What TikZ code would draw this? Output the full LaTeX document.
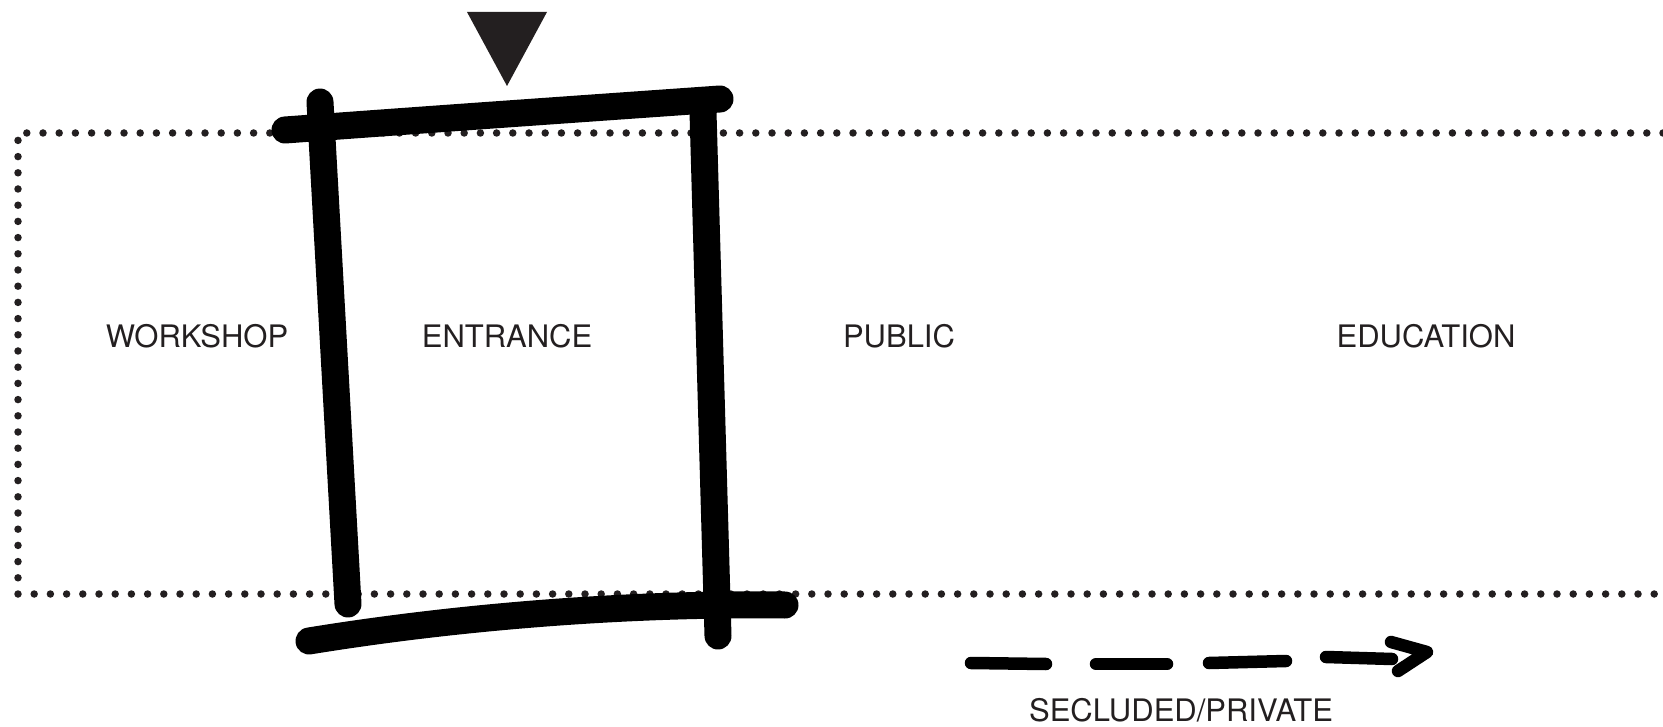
\documentclass[tikz,border=0pt]{standalone}
\usepackage{fontspec}
\setmainfont{TeX Gyre Heros}
\usepackage{tikz}
\usetikzlibrary{positioning, calc}
\definecolor{inkgray}{HTML}{231F20}
\tikzset{
    zone/.style={text=inkgray, font=\fontsize{31}{36}\selectfont, inner sep=0pt},
    brush/.style={black, line width=27pt, line cap=round},
    dotline/.style={inkgray, line width=7.5pt, line cap=round, dash pattern=on 0pt off 16.2pt},
    pen/.style={black, line width=12.5pt, line cap=round, line join=round}
}
\begin{document}
\begin{tikzpicture}[x=1pt, y=-1pt]
\useasboundingbox (0,0) rectangle (1663,727);
% dotted site outline
\draw[dotline] (1663,133) -- (18,133) -- (18,594) -- (1663,594);
% hand drawn entrance frame
\coordinate (tl) at (285,130);
\coordinate (tr) at (720,99);
\coordinate (bl) at (309,641);
\coordinate (br) at (785,605);
\draw[brush] (tl) .. controls (450,118) .. (tr);
\draw[brush] (320,102) -- (348,604);
\draw[brush] (703,112) -- (718,636);
\draw[brush] (bl) .. controls (450,618) and (620,603) .. (br);
% entry marker
\fill[inkgray] (467,12) -- (547,12) -- (507,86) -- cycle;
% zones
\node[zone] (workshop) at (197,336) {WORKSHOP};
\node[zone] (entrance) at (507,336) {ENTRANCE};
\node[zone] (public) at (899,336) {PUBLIC};
\node[zone] (education) at (1426,336) {EDUCATION};
% gradient arrow
\foreach \a/\b/\ya/\yb in {971/1046/663/664, 1096/1167/664/664, 1209/1286/663/661, 1326/1392/657/659} {
    \draw[pen] (\a,\ya) -- (\b,\yb);
}
\coordinate (tip) at (1427,652);
\draw[pen] (1391,642) -- (tip) -- (1398,671);
\node[zone] (secluded) at (1181,710) {SECLUDED/PRIVATE};
\end{tikzpicture}
\end{document}
